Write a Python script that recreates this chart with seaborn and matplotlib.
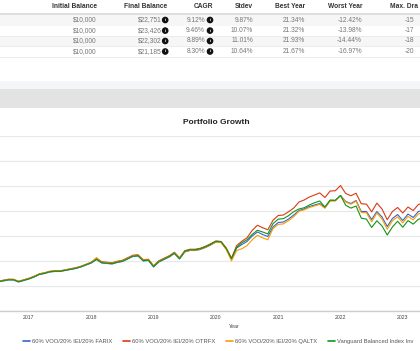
import pandas as pd
import seaborn as sns
import matplotlib.pyplot as plt

# Month-end balances (chart is cropped: mid 2016 .. spring 2023)
months = pd.date_range('2016-06-30', periods=83, freq='ME')

farix = [10320, 10400, 10480, 10480, 10320, 10440, 10560, 10720, 10920, 11000,
         11120, 11160, 11160, 11240, 11320, 11400, 11520, 11680, 11840, 12120,
         11840, 11800, 11760, 11880, 11960, 12160, 12360, 12400, 12000, 12040,
         11520, 11920, 12120, 12320, 12600, 12160, 12720, 12840, 12840, 12920,
         13080, 13280, 13520, 13480, 12960, 12160, 13040, 13320, 13560, 14000,
         14320, 14120, 13960, 14720, 15080, 15120, 15360, 15680, 16040, 16160,
         16360, 16480, 16600, 16280, 16840, 16840, 17240, 16760, 16600, 16840,
         15960, 15960, 15320, 15960, 15520, 14760, 15400, 15720, 15240, 15760,
         15480, 15960, 16080]
otrfx = [10380, 10460, 10540, 10540, 10380, 10500, 10620, 10780, 10980, 11060,
         11180, 11220, 11220, 11300, 11380, 11460, 11580, 11740, 11900, 12240,
         11940, 11900, 11860, 11980, 12060, 12260, 12460, 12500, 12100, 12140,
         11620, 12020, 12220, 12420, 12700, 12260, 12820, 12940, 12940, 13020,
         13180, 13380, 13600, 13560, 13040, 12220, 13240, 13580, 13860, 14450,
         14860, 14660, 14500, 15260, 15640, 15680, 15940, 16240, 16720, 16880,
         17120, 17280, 17450, 17080, 17600, 17620, 18040, 17400, 17220, 17420,
         16580, 16550, 15930, 16630, 16160, 15300, 15960, 16280, 15840, 16320,
         16040, 16520, 16640]
qaltx = [10360, 10440, 10520, 10520, 10360, 10480, 10600, 10760, 10960, 11040,
         11160, 11200, 11200, 11280, 11360, 11440, 11560, 11720, 11880, 12270,
         11900, 11860, 11820, 11940, 12020, 12220, 12420, 12460, 12060, 12100,
         11580, 11980, 12180, 12380, 12660, 12220, 12740, 12860, 12860, 12940,
         13100, 13300, 13520, 13480, 12900, 12010, 12840, 12980, 13230, 13700,
         14060, 13850, 13700, 14590, 14930, 14970, 15230, 15550, 15980, 16090,
         16280, 16400, 16530, 16220, 16790, 16800, 17240, 16720, 16540, 16780,
         15880, 15860, 15130, 15840, 15360, 14540, 15220, 15540, 15050, 15570,
         15290, 15760, 15880]
vbinx = [10340, 10420, 10500, 10500, 10340, 10460, 10580, 10740, 10940, 11020,
         11140, 11180, 11180, 11260, 11340, 11420, 11540, 11700, 11860, 12140,
         11870, 11830, 11790, 11910, 11990, 12190, 12390, 12430, 12030, 12070,
         11550, 11950, 12150, 12350, 12630, 12190, 12780, 12900, 12900, 12980,
         13140, 13340, 13580, 13540, 13000, 12200, 13100, 13460, 13700, 14130,
         14460, 14320, 14170, 14990, 15350, 15390, 15630, 15950, 16160, 16260,
         16480, 16660, 16800, 16320, 16880, 16860, 17240, 16460, 16230, 16400,
         15430, 15350, 14680, 15220, 14800, 14080, 14720, 15180, 14700, 15230,
         14950, 15340, 15460]

series_names = ['60% VOO/20% IEI/20% FARIX', '60% VOO/20% IEI/20% OTRFX',
                '60% VOO/20% IEI/20% QALTX', 'Vanguard Balanced Index Inv']
series_colors = ['#3366cc', '#dc3912', '#ff9900', '#109618']
year_ticks = [2017, 2018, 2019, 2020, 2021, 2022, 2023]

# summary table above the chart
table_cols = ['Initial Balance', 'Final Balance', 'CAGR', 'Stdev',
              'Best Year', 'Worst Year', 'Max. Dra']
initial_balance = ['$10,000', '$10,000', '$10,000', '$10,000']
final_balance = ['$22,751', '$23,426', '$22,302', '$21,185']
cagr = ['9.12%', '9.46%', '8.89%', '8.30%']
stdev = ['9.87%', '10.07%', '11.01%', '10.64%']
best_year = ['21.34%', '21.32%', '21.93%', '21.67%']
worst_year = ['-12.42%', '-13.98%', '-14.44%', '-16.97%']
max_drawdown = ['-15', '-17', '-18', '-20']

sns.set_theme(style='white')
plt.rcParams['font.family'] = ['Liberation Sans', 'DejaVu Sans']

W, H = 420, 351


def fx(px):
    return px / W


def fy(py):
    return 1 - py / H


fig = plt.figure(figsize=(4.2, 3.51), dpi=100)

# --- table ---
def band(y0, y1, color):
    fig.add_artist(plt.Rectangle((0, fy(y1)), 1, (y1 - y0) / H, transform=fig.transFigure,
                                 fc=color, ec='none', zorder=0))

band(13, 15, '#dddddd')
band(15, 25.5, '#f6f6f6')
band(35.8, 46.3, '#f6f6f6')
for yy in [25.5, 35.8, 46.3, 56.8]:
    band(yy, yy + 0.7, '#ebebeb')

head_x = [97, 167, 213, 253, 305, 362]
for lab, x in zip(table_cols[:-1], head_x):
    fig.text(fx(x), fy(6), lab, ha='right', va='center', fontsize=4.8,
             fontweight='bold', color='#333333')
fig.text(fx(390), fy(6), table_cols[-1], ha='left', va='center', fontsize=4.8,
         fontweight='bold', color='#333333')

row_y = [20, 30.6, 41, 51.5]
value_cols = [(initial_balance, 97), (final_balance, 162), (cagr, 205),
              (stdev, 253), (best_year, 305), (worst_year, 362)]
for i, y in enumerate(row_y):
    for col, x in value_cols:
        fig.text(fx(x), fy(y), col[i], ha='right', va='center', fontsize=4.8, color='#777777')
    fig.text(fx(405), fy(y), max_drawdown[i], ha='left', va='center', fontsize=4.8, color='#777777')
    for ix in [165.2, 210]:
        fig.text(fx(ix), fy(y), 'i', ha='center', va='center', fontsize=3.2, color='white',
                 fontweight='bold',
                 bbox=dict(boxstyle='circle,pad=0.3', fc='#111111', ec='none'))

# separator bands between table and chart
band(80.5, 81.5, '#e2e2e2')
band(81.5, 89, '#f4f5f8')
band(89, 108, '#e3e3e3')

fig.text(fx(216), fy(123), 'Portfolio Growth', ha='center', va='center',
         fontsize=6.0, fontweight='bold', color='#222222')

# --- chart ---
ax = fig.add_axes([0, fy(311), 1, 175 / H])

t = months.year + months.month / 12
df = pd.concat([
    pd.DataFrame({'t': t, 'balance': vals, 'portfolio': name})
    for name, vals in zip(series_names, [farix, otrfx, qaltx, vbinx])
])

sns.lineplot(data=df, x='t', y='balance', hue='portfolio', hue_order=series_names,
             palette=series_colors, lw=0.8, ax=ax)

ax.set_xlim(2017 - 29 / 62.3, 2017 + 391 / 62.3)
ax.set_ylim(8000, 22000)
ax.set_yticks(range(8000, 22001, 2000))
ax.set_xticks(year_ticks)
ax.set_xticklabels([str(y) for y in year_ticks])
ax.tick_params(axis='x', length=0, pad=2.6, labelsize=3.7, labelcolor='#444444')
ax.tick_params(axis='y', left=False, labelleft=False)
ax.grid(axis='y', color='#e8e8e8', lw=0.9)
ax.set_axisbelow(True)
for s in ['left', 'right', 'top']:
    ax.spines[s].set_visible(False)
ax.spines['bottom'].set_color('#cccccc')
ax.spines['bottom'].set_linewidth(1.0)
ax.set_ylabel('')
ax.set_xlabel('Year', fontsize=3.9, color='#444444')
ax.xaxis.set_label_coords(234 / W, (311 - 326) / 175)
ax.xaxis.label.set_va('center')

sns.move_legend(ax, 'center', bbox_to_anchor=(fx(218), fy(341)), bbox_transform=fig.transFigure,
                ncol=4, frameon=False, title=None, fontsize=4.2,
                handlelength=1.25, handletextpad=0.35, columnspacing=1.8)
leg = ax.get_legend()
for h, c in zip(leg.legend_handles, series_colors):
    h.set_color(c)
    h.set_linewidth(1.2)
for txt in leg.get_texts():
    txt.set_color('#555555')

fig.savefig('out.png', dpi=100)
